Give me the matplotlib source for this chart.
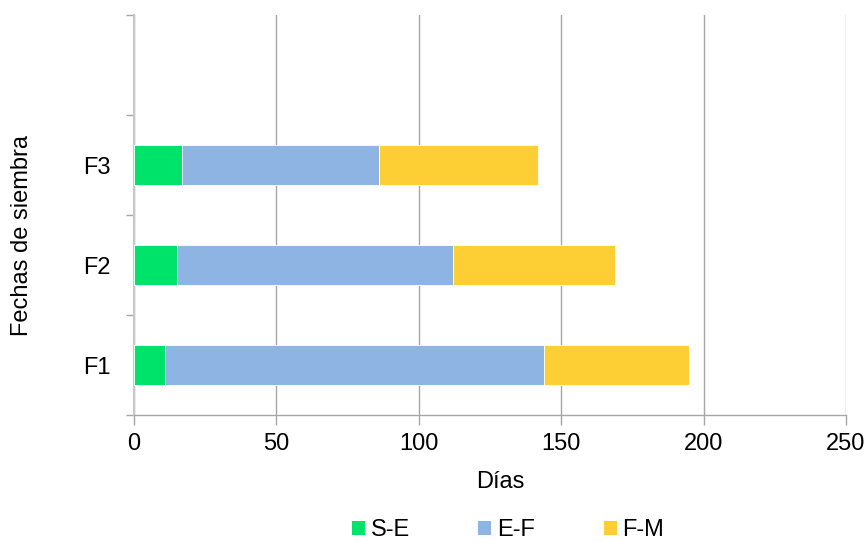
import matplotlib.pyplot as plt
from matplotlib.patches import Patch

plt.rcParams['font.family'] = ['Liberation Sans', 'DejaVu Sans']

# datos (días por fase)
fechas = ['F1', 'F2', 'F3']
s_e = [11, 15, 17]
e_f = [133, 97, 69]
f_m = [51, 57, 56]
fases = ['S-E', 'E-F', 'F-M']
colores = ['#00E36A', '#8EB4E3', '#FECE35']

fig = plt.figure(figsize=(8.66, 5.42), dpi=100)
ax = fig.add_axes([134 / 866, 1 - 415 / 542, 712 / 866, 400 / 542])

pos = list(range(len(fechas)))
izq = [0] * len(fechas)
for vals, col in zip([s_e, e_f, f_m], colores):
    ax.barh(pos, vals, left=izq, height=0.4, color=col, edgecolor='white', linewidth=0.6, zorder=3)
    izq = [a + b for a, b in zip(izq, vals)]

# 4 huecos de categoría, el último vacío
ax.set_xlim(0, 250)
ax.set_ylim(-0.5, 3.5)
ax.set_xticks([0, 50, 100, 150, 200, 250])
ax.set_yticks(pos)
ax.set_yticklabels(fechas)
ax.set_yticks([-0.5, 0.5, 1.5, 2.5, 3.5], minor=True)
ax.tick_params(axis='y', which='major', length=0, pad=17, labelsize=17)
ax.tick_params(axis='y', which='minor', length=6, color='#a6a6a6', width=1)
ax.tick_params(axis='x', length=7, color='#a6a6a6', width=1, pad=6, labelsize=17)

ax.grid(axis='x', color='#a6a6a6', linewidth=1, zorder=0)
for s in ['top', 'right']:
    ax.spines[s].set_visible(False)
ax.spines['left'].set_color('#c8c8c8')
ax.spines['left'].set_linewidth(1.5)
ax.spines['bottom'].set_color('#a6a6a6')
ax.spines['bottom'].set_linewidth(1)

ax.set_xlabel('Días', fontsize=17, va='center')
ax.xaxis.set_label_coords(0.514, -0.1675)
ax.set_ylabel('Fechas de siembra', fontsize=17, va='center')
ax.yaxis.set_label_coords(-0.157, 0.45)

handles = [Patch(facecolor=c, label=f) for c, f in zip(colores, fases)]
fig.legend(handles=handles, loc='center', bbox_to_anchor=(508 / 866, 1 - 530 / 542), ncol=3,
           frameon=False, fontsize=17, handlelength=0.55, handleheight=0.55,
           handletextpad=0.25, columnspacing=2.9)

fig.savefig('out.png', dpi=100)
